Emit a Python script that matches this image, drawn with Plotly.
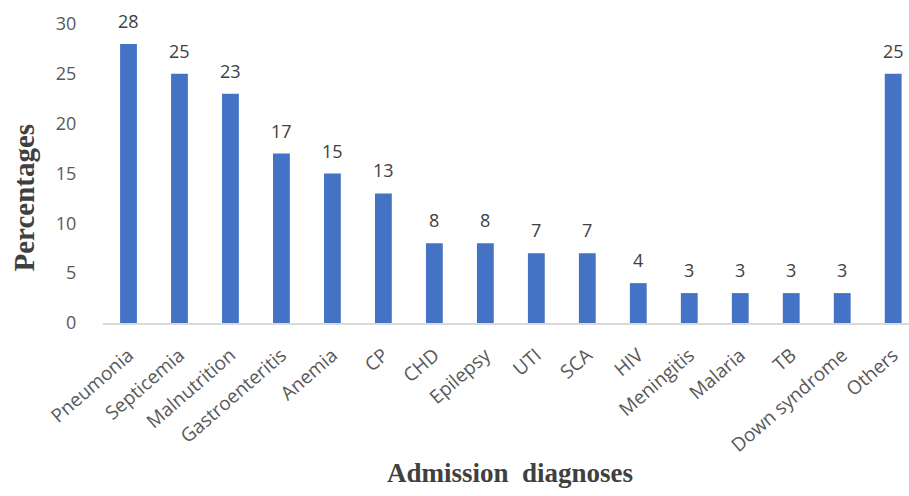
import plotly.graph_objects as go

diagnoses = ["Pneumonia", "Septicemia", "Malnutrition", "Gastroenteritis", "Anemia",
             "CP", "CHD", "Epilepsy", "UTI", "SCA", "HIV", "Meningitis", "Malaria",
             "TB", "Down syndrome", "Others"]
percentages = [28, 25, 23, 17, 15, 13, 8, 8, 7, 7, 4, 3, 3, 3, 3, 25]
y_ticks = [0, 5, 10, 15, 20, 25, 30]

W, H = 909, 496
L, T, B = 102.5, 24, 173

fig = go.Figure(go.Bar(
    x=list(range(len(diagnoses))),
    y=percentages,
    width=0.33,
    marker=dict(color="#4472C4", line=dict(width=0)),
    cliponaxis=False,
))

# value labels sit a little above each bar
value_labels = [
    dict(x=i, y=v, xref="x", yref="y", text=str(v), showarrow=False,
         xanchor="center", yanchor="bottom", yshift=9,
         font=dict(family="Open Sans", size=18, color="#404040"))
    for i, v in enumerate(percentages)
]

titles = [
    dict(text="<b>Percentages</b>", xref="paper", yref="paper",
         x=-(L - 23) / (W - L), y=(H - B - 198) / (H - T - B),
         xanchor="center", yanchor="middle", textangle=-90, showarrow=False,
         font=dict(family="Liberation Serif", size=29, color="#404040")),
    dict(text="<b>Admission&#160;&#160;diagnoses</b>", xref="paper", yref="paper",
         x=(510 - L) / (W - L), y=-(473 - (H - B)) / (H - T - B),
         xanchor="center", yanchor="middle", showarrow=False,
         font=dict(family="Liberation Serif", size=27, color="#404040")),
]

fig.update_layout(
    width=W, height=H,
    margin=dict(l=L, r=0, t=T, b=B, pad=0),
    paper_bgcolor="white", plot_bgcolor="white",
    showlegend=False,
    xaxis=dict(
        range=[-0.5, 15.31],
        tickmode="array",
        tickvals=list(range(len(diagnoses))),
        ticktext=diagnoses,
        tickangle=-41,
        tickfont=dict(family="Open Sans", size=19, color="#595959"),
        showline=True, linecolor="#D9D9D9", linewidth=1.5,
        showgrid=False, zeroline=False,
        ticks="outside", ticklen=12, tickcolor="rgba(0,0,0,0)",
    ),
    yaxis=dict(
        range=[0, 30],
        tickmode="array",
        tickvals=y_ticks,
        tickfont=dict(family="Open Sans", size=18, color="#595959"),
        showgrid=False, zeroline=False, showline=False,
        ticks="outside", ticklen=22, tickcolor="rgba(0,0,0,0)",
    ),
    annotations=value_labels + titles,
)

fig.write_html("out.html")
